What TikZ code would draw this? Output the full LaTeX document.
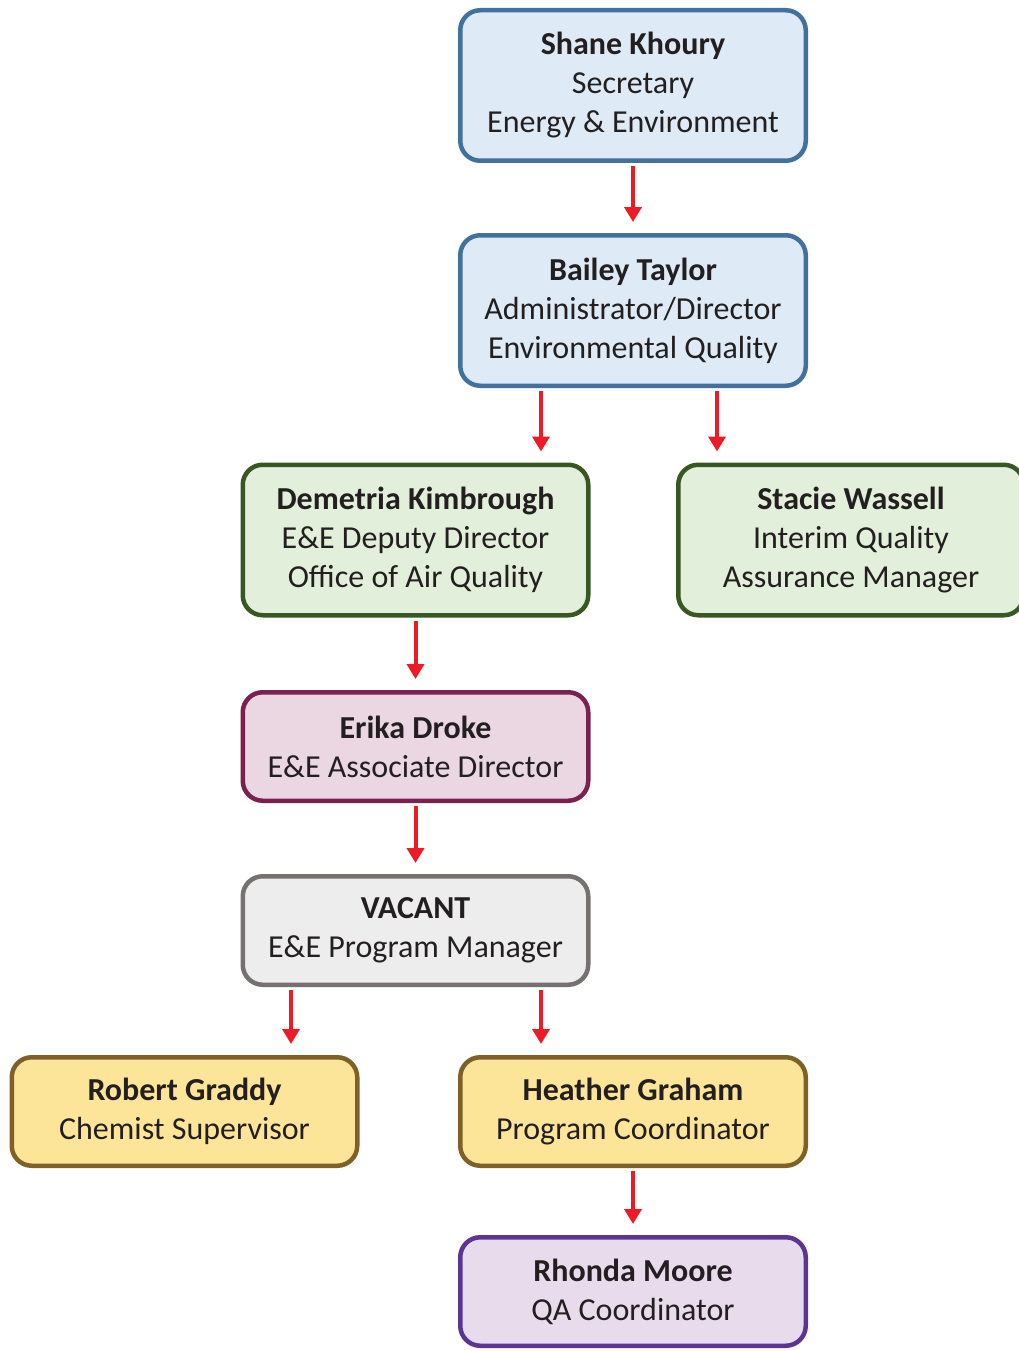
\documentclass[tikz,border=0pt]{standalone}
\usepackage{fontspec}
\setmainfont{Carlito}
\usetikzlibrary{arrows.meta}

\definecolor{bluefill}{HTML}{DEEBF6}
\definecolor{blueline}{HTML}{41719C}
\definecolor{greenfill}{HTML}{E2EFDA}
\definecolor{greenline}{HTML}{385723}
\definecolor{plumfill}{HTML}{EBD7E2}
\definecolor{plumline}{HTML}{7A2150}
\definecolor{greyfill}{HTML}{EDEDED}
\definecolor{greyline}{HTML}{767171}
\definecolor{goldfill}{HTML}{FCE598}
\definecolor{goldline}{HTML}{7F6128}
\definecolor{violetfill}{HTML}{E8DCEC}
\definecolor{violetline}{HTML}{5B3494}
\definecolor{arrowred}{HTML}{ED1C24}
\definecolor{textdark}{HTML}{231F20}

\tikzset{
  post/.style={draw, line width=4.5pt, rounded corners=20pt, align=center,
    text=textdark, minimum width=345.5pt, minimum height=108.5pt,
    font=\fontsize{32}{39}\selectfont},
  tall/.style={minimum height=150.5pt},
  link/.style={-{Triangle[length=15pt,width=17pt]}, arrowred, line width=4pt,
    shorten <=3pt, shorten >=11pt}
}

\begin{document}
\begin{tikzpicture}[x=1pt, y=-1pt]
    \useasboundingbox (0,0) rectangle (1018,1351);
    \path (633, 85.5) node [post, tall, fill=bluefill, draw=blueline] (sk)
	{\textbf{Shane Khoury}\\Secretary\\Energy \& Environment};
    \path (633, 310.5) node [post, tall, fill=bluefill, draw=blueline] (bt)
	{\textbf{Bailey Taylor}\\Administrator/Director\\Environmental Quality};
    \path (415.5, 540) node [post, tall, fill=greenfill, draw=greenline] (dk)
	{\textbf{Demetria Kimbrough}\\E\&E Deputy Director\\Office of Air Quality};
    \path (851, 540) node [post, tall, fill=greenfill, draw=greenline] (sw)
	{\textbf{Stacie Wassell}\\Interim Quality\\Assurance Manager};
    \path (415.5, 746.5) node [post, fill=plumfill, draw=plumline] (ed)
	{\textbf{Erika Droke}\\E\&E Associate Director};
    \path (415.5, 930.5) node [post, fill=greyfill, draw=greyline] (va)
	{\textbf{VACANT}\\E\&E Program Manager};
    \path (184.5, 1111.5) node [post, fill=goldfill, draw=goldline] (rg)
	{\textbf{Robert Graddy}\\Chemist Supervisor};
    \path (633, 1111.5) node [post, fill=goldfill, draw=goldline] (hg)
	{\textbf{Heather Graham}\\Program Coordinator};
    \path (633, 1291.5) node [post, fill=violetfill, draw=violetline] (rm)
	{\textbf{Rhonda Moore}\\QA Coordinator};

    \draw [link] (sk.south) -- (bt.north);
    \draw [link] ([xshift=-92pt]bt.south) -- ([xshift=-92pt]bt.south |- dk.north);
    \draw [link] ([xshift=84pt]bt.south) -- ([xshift=84pt]bt.south |- sw.north);
    \draw [link] (dk.south) -- (ed.north);
    \draw [link] (ed.south) -- (va.north);
    \draw [link] ([xshift=-124.5pt]va.south) -- ([xshift=-124.5pt]va.south |- rg.north);
    \draw [link] ([xshift=125.5pt]va.south) -- ([xshift=125.5pt]va.south |- hg.north);
    \draw [link] (hg.south) -- (rm.north);
\end{tikzpicture}
\end{document}
